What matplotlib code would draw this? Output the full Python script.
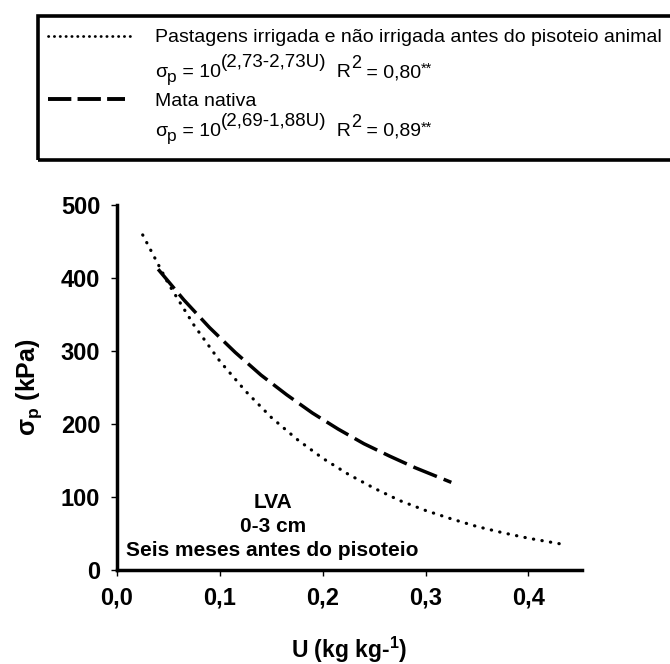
import matplotlib
matplotlib.use('Agg')
import matplotlib.pyplot as plt
from matplotlib.lines import Line2D
from matplotlib.patches import Rectangle

plt.rcParams['font.family'] = ['Liberation Sans', 'DejaVu Sans']
plt.rcParams['mathtext.fontset'] = 'custom'
plt.rcParams['mathtext.rm'] = 'Liberation Sans'
plt.rcParams['mathtext.it'] = 'Liberation Sans:italic'
plt.rcParams['mathtext.bf'] = 'Liberation Sans:bold'

# values
u_past = [0.025, 0.05, 0.075, 0.10, 0.125, 0.15, 0.175, 0.20, 0.225, 0.25,
          0.275, 0.30, 0.325, 0.35, 0.375, 0.40, 0.43]
sp_past = [459, 392, 335, 286, 245, 209, 179, 153, 131, 112,
           95, 81.5, 70, 59.5, 51, 43.5, 36]
u_mata = [0.04, 0.065, 0.09, 0.115, 0.14, 0.165, 0.19, 0.215, 0.24, 0.265, 0.29, 0.325]
sp_mata = [412, 370, 332, 298, 267, 240, 215, 193, 173, 156, 140, 120]

xticks = [0.0, 0.1, 0.2, 0.3, 0.4]
xticklabels = ['0,0', '0,1', '0,2', '0,3', '0,4']
yticks = [0, 100, 200, 300, 400, 500]

name_past = 'Pastagens irrigada e não irrigada antes do pisoteio animal'
name_mata = 'Mata nativa'
exp_past, r2_past = '(2,73-2,73U)', '0,80'
exp_mata, r2_mata = '(2,69-1,88U)', '0,89'

dots = (0, (0.1, 2.6))
dashes = (0, (7.3, 2.1))

W, H = 670, 664
fig = plt.figure(figsize=(6.7, 6.64), dpi=100)
ax = fig.add_axes([0.1746, 0.1416, 0.694, 0.5497])

ax.plot(u_past, sp_past, color='black', lw=2.3, ls=dots,
        dash_capstyle='round')
ax.plot(u_mata, sp_mata, color='black', lw=2.5, ls=dashes)

ax.set_xlim(0, 0.452)
ax.set_ylim(0, 500)
ax.set_xticks(xticks)
ax.set_xticklabels(xticklabels)
ax.set_yticks(yticks)
for s in ['top', 'right']:
    ax.spines[s].set_visible(False)
for s in ['left', 'bottom']:
    ax.spines[s].set_linewidth(2.5)
ax.tick_params(direction='out', length=4, width=1, labelsize=17, pad=8)
for lab in ax.get_xticklabels() + ax.get_yticklabels():
    lab.set_fontweight('bold')

ax.set_xlabel('U (kg kg-$\\mathregular{^1}$)', fontsize=16.5, fontweight='bold', labelpad=18)
ax.set_ylabel('$\\mathregular{\\sigma_p}$ (kPa)', fontsize=18, fontweight='bold', labelpad=12)

ax.text(0.152, 92, 'LVA', fontsize=15, fontweight='bold', ha='center', va='center')
ax.text(0.152, 60, '0-3 cm', fontsize=15, fontweight='bold', ha='center', va='center')
ax.text(0.009, 26, 'Seis meses antes do pisoteio', fontsize=15, fontweight='bold',
        ha='left', va='center')

# legend box
fig.patches.append(Rectangle((38 / W, 1 - 160 / H), 650 / W, 144 / H,
                             transform=fig.transFigure, fill=False,
                             edgecolor='black', lw=2.6))
fig.lines.append(Line2D([48 / W, 134 / W], [1 - 36 / H, 1 - 36 / H],
                        transform=fig.transFigure, color='black', lw=2.0,
                        ls=(0, (0.1, 2.0)), dash_capstyle='round'))
fig.lines.append(Line2D([48 / W, 125 / W], [1 - 99 / H, 1 - 99 / H],
                        transform=fig.transFigure, color='black', lw=2.8,
                        ls=(0, (6.0, 1.6))))
fs = 14
fig.text(155 / W, 1 - 42 / H, name_past, fontsize=fs, va='baseline')
fig.text(155 / W, 1 - 106 / H, name_mata, fontsize=fs, va='baseline')

renderer = fig.canvas.get_renderer()


def chain(parts, x, y):
    # parts: (text, fontsize, raise in px); placed one after another
    for s, size, dy in parts:
        t = fig.text(x / W, 1 - (y - dy) / H, s, fontsize=size, va='baseline')
        x += t.get_window_extent(renderer).width


def formula(expo, r2, y):
    chain([('σ', fs, 0), ('p', 12.5, -5), (' = 10', fs, 0), (expo, 13.5, 10),
           ('  R', fs, 0), ('2', 13, 9), (' = ' + r2, fs, 0), ('**', 10.5, 4)],
          155, y)


formula(exp_past, r2_past, 77)
formula(exp_mata, r2_mata, 136)

fig.savefig('out.png', dpi=100)
